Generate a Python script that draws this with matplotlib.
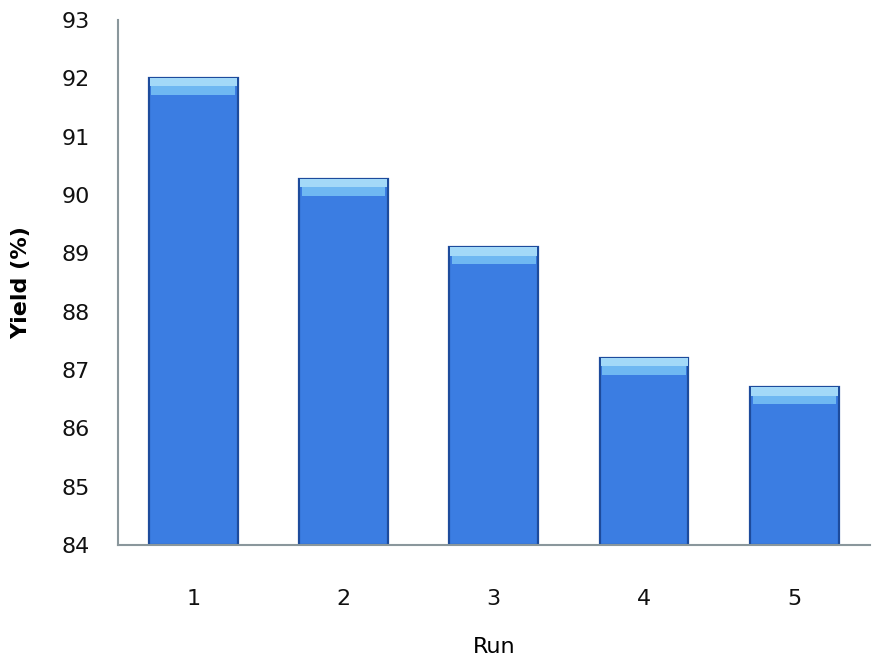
import matplotlib.pyplot as plt
import numpy as np

# data
runs = ["1", "2", "3", "4", "5"]
yields = [92.0, 90.27, 89.1, 87.2, 86.7]
y_ticks = [84, 85, 86, 87, 88, 89, 90, 91, 92, 93]

fig = plt.figure(figsize=(8.74, 6.63), dpi=100)
ax = fig.add_axes([0.135, 0.178, 0.86, 0.792])

x = np.arange(1, len(runs) + 1)
base = y_ticks[0]
heights = np.array(yields) - base

# main bars
ax.bar(x, heights, bottom=base, width=0.59, color="#3b7de2",
       edgecolor="#1d4b9c", linewidth=1.6, zorder=2)

# bevel highlight near the top of each bar
bevel = 0.28
ax.bar(x, bevel, bottom=np.array(yields) - bevel, width=0.555,
       color="#6fb8f2", edgecolor="none", zorder=3)
ax.bar(x, bevel * 0.5, bottom=np.array(yields) - bevel * 0.5, width=0.58,
       color="#a3d9f8", edgecolor="none", zorder=3)

ax.set_xlim(0.5, 5.5)
ax.set_ylim(84, 93)
ax.set_xticks(x)
ax.set_xticklabels(runs)
ax.set_yticks(y_ticks)

for s in ["top", "right"]:
    ax.spines[s].set_visible(False)
for s in ["left", "bottom"]:
    ax.spines[s].set_color("#8a979c")
    ax.spines[s].set_linewidth(1.5)

ax.tick_params(axis="both", length=0, labelsize=16, colors="#111111")
ax.tick_params(axis="x", pad=32)
ax.tick_params(axis="y", pad=20)

ax.set_xlabel("Run", fontsize=16, labelpad=20)
ax.set_ylabel("Yield (%)", fontsize=16, fontweight="bold", labelpad=22)

fig.savefig("out.png", dpi=100)
